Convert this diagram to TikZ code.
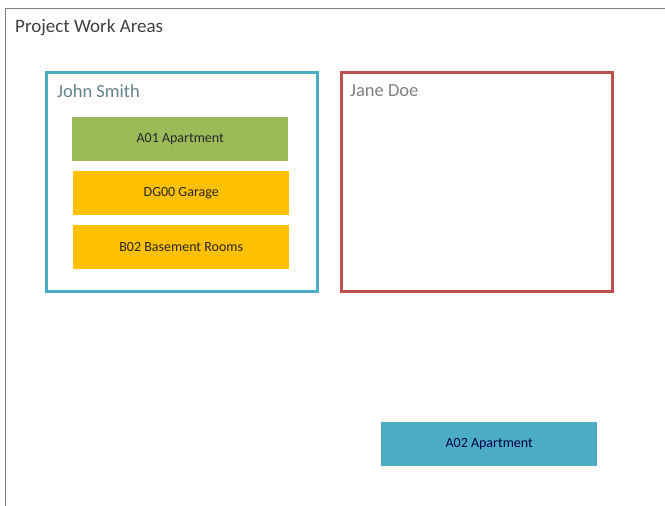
\documentclass[tikz,border=0pt]{standalone}
\usepackage{fontspec}
\setmainfont{Carlito}
\usetikzlibrary{positioning}

\definecolor{areablue}{HTML}{4BACC6}
\definecolor{areared}{HTML}{C0504D}
\definecolor{areagreen}{HTML}{9BBB59}
\definecolor{areaorange}{HTML}{FFC000}
\definecolor{textgray}{HTML}{404040}

\begin{document}
\begin{tikzpicture}[x=1pt,y=-1pt,
  person/.style={draw,line width=3.2pt,minimum width=271pt,minimum height=219pt,anchor=north west},
  area/.style={minimum width=216pt,minimum height=44pt,inner sep=0pt,font=\fontsize{14}{16}\selectfont,text=black!85,anchor=north west},
  who/.style={font=\fontsize{18.5}{21}\selectfont,anchor=west,inner sep=0pt}]
  \useasboundingbox (0,0) rectangle (665,506);

  % outer frame (runs off to the right and bottom)
  \draw[gray,line width=1.2pt] (665,8.5) -- (5.5,8.5) -- (5.5,506);
  \node[who,text=textgray,font=\fontsize{19}{22}\selectfont] (title) at (15,28) {Project Work Areas};

  % two people
  \node[person,draw=areablue] (john) at (45,70.5) {};
  \node[person,draw=areared] (jane) at (340,70.5) {};
  \node[who,text=areablue!45!black!70] (johnname) at (57,91) {John Smith};
  \node[who,text=gray] (janename) at (350,91) {Jane Doe};

  % work areas
  \node[area,fill=areagreen] (a01) at (72,117) {A01 Apartment};
  \node[area,fill=areaorange] (dg00) at (73,171) {DG00 Garage};
  \node[area,fill=areaorange] (b02) at (73,225) {B02 Basement Rooms};
  \node[area,fill=areablue,text=black!75!blue] (a02) at (381,422) {A02 Apartment};
\end{tikzpicture}
\end{document}
